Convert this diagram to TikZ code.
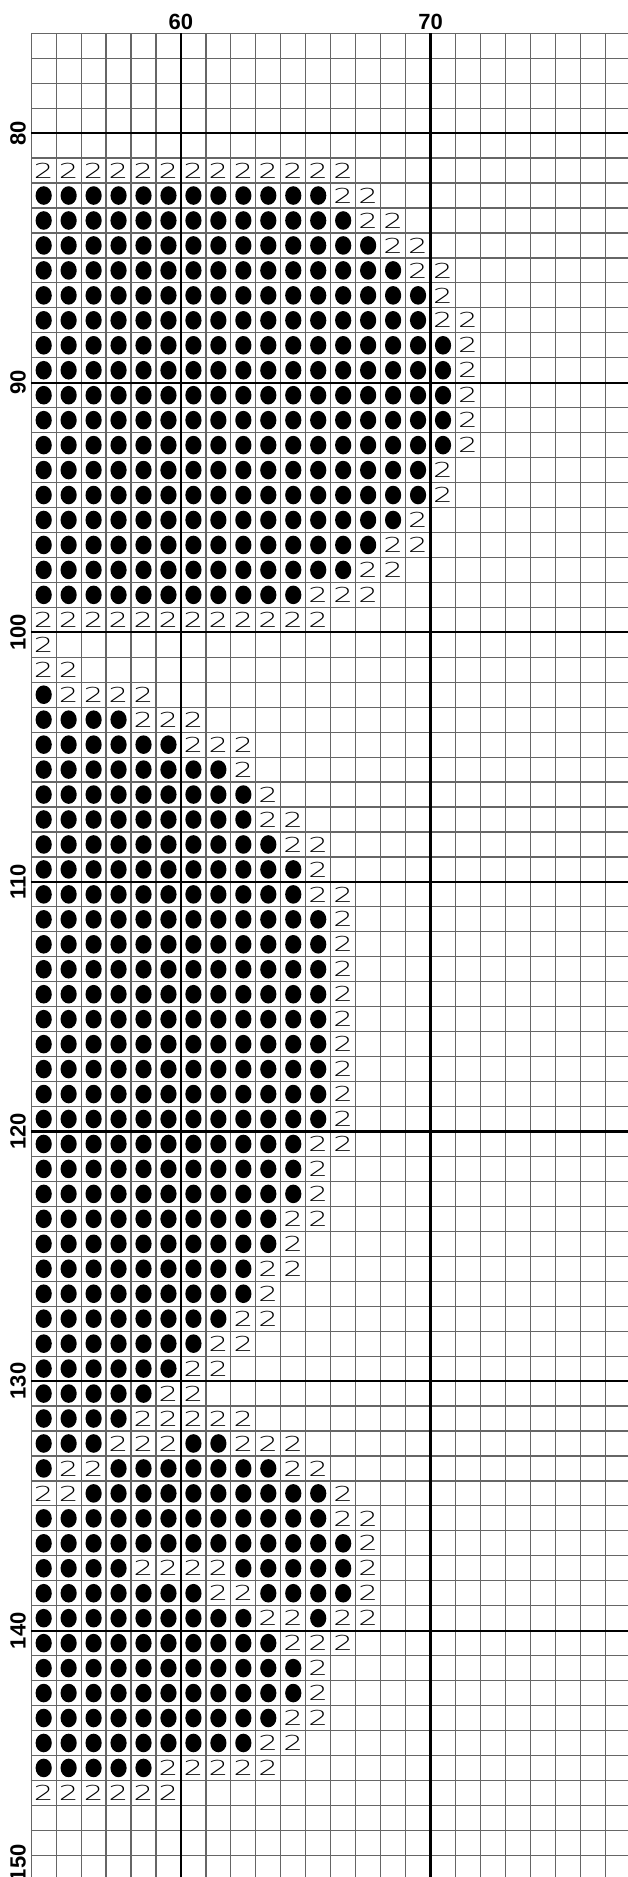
\documentclass[tikz,border=0pt]{standalone}
\usepackage{fontspec}
\usepackage{graphicx}
\setmainfont{Liberation Sans}
\newfontfamily\symfont{DejaVuSans-ExtraLight.ttf}

% one chart row: filled stitches (runs a/b) and the 2-symbol (columns)
\newcommand{\dotrow}[2]{%
  \foreach \a/\b in {#2}{\foreach \col in {\a,...,\b}{%
    \fill (\col+0.5,#1+0.5) ellipse [x radius=4.05pt, y radius=4.65pt];}}}
\newcommand{\tworow}[2]{%
  \foreach \col in {#2}{\node [sym] (s#1-\col) at (\col+0.5,#1+0.5) {\scalebox{1.5}[1]{2}};}}

\begin{document}
\begin{tikzpicture}[
    x=12.48pt, y=-12.48pt,
    minor/.style={draw=black!60, line width=0.6pt},
    major/.style={draw=black, line width=1.1pt},
    sym/.style={inner sep=0pt, font=\symfont\fontsize{10.3}{10.3}\selectfont},
    axislabel/.style={inner sep=0pt, font=\bfseries\fontsize{11}{11}\selectfont},
    rowlabel/.style={axislabel, rotate=90}
]

\fill [white] (-1.25,-1.334) rectangle (23.91,73.87);
\useasboundingbox (-1.25,-1.334) rectangle (23.91,73.87);
\clip (-1.25,-1.334) rectangle (23.91,73.87);

% grid
\foreach \col in {0,...,24} \draw [minor] (\col,0) -- (\col,74);
\foreach \rw in {0,...,74} \draw [minor] (0,\rw) -- (24,\rw);
\foreach \col in {6,16} \draw [major] (\col,0) -- (\col,74);
\foreach \rw in {4,14,...,74} \draw [major] (0,\rw) -- (24,\rw);

% numbers
\node [axislabel] (col60) at (6,-0.465) {60};
\node [axislabel] (col70) at (16,-0.465) {70};
\foreach \n [count=\i from 0] in {80,90,...,140}
  \node [rowlabel] (row\n) at (-0.53,4+10*\i) {\n};
\node [rowlabel] (row150) at (-0.53,73.3) {150};

% stitches
\tworow{5}{0,...,12}
\dotrow{6}{0/11} \tworow{6}{12,13}
\dotrow{7}{0/12} \tworow{7}{13,14}
\dotrow{8}{0/13} \tworow{8}{14,15}
\dotrow{9}{0/14} \tworow{9}{15,16}
\dotrow{10}{0/15} \tworow{10}{16}
\dotrow{11}{0/15} \tworow{11}{16,17}
\foreach \rw in {12,...,16} {\dotrow{\rw}{0/16} \tworow{\rw}{17}}
\dotrow{17}{0/15} \tworow{17}{16}
\dotrow{18}{0/15} \tworow{18}{16}
\dotrow{19}{0/14} \tworow{19}{15}
\dotrow{20}{0/13} \tworow{20}{14,15}
\dotrow{21}{0/12} \tworow{21}{13,14}
\dotrow{22}{0/10} \tworow{22}{11,12,13}
\tworow{23}{0,...,11}
\tworow{24}{0}
\tworow{25}{0,1}
\dotrow{26}{0/0} \tworow{26}{1,2,3,4}
\dotrow{27}{0/3} \tworow{27}{4,5,6}
\dotrow{28}{0/5} \tworow{28}{6,7,8}
\dotrow{29}{0/7} \tworow{29}{8}
\dotrow{30}{0/8} \tworow{30}{9}
\dotrow{31}{0/8} \tworow{31}{9,10}
\dotrow{32}{0/9} \tworow{32}{10,11}
\dotrow{33}{0/10} \tworow{33}{11}
\dotrow{34}{0/10} \tworow{34}{11,12}
\foreach \rw in {35,...,43} {\dotrow{\rw}{0/11} \tworow{\rw}{12}}
\dotrow{44}{0/10} \tworow{44}{11,12}
\dotrow{45}{0/10} \tworow{45}{11}
\dotrow{46}{0/10} \tworow{46}{11}
\dotrow{47}{0/9} \tworow{47}{10,11}
\dotrow{48}{0/9} \tworow{48}{10}
\dotrow{49}{0/8} \tworow{49}{9,10}
\dotrow{50}{0/8} \tworow{50}{9}
\dotrow{51}{0/7} \tworow{51}{8,9}
\dotrow{52}{0/6} \tworow{52}{7,8}
\dotrow{53}{0/5} \tworow{53}{6,7}
\dotrow{54}{0/4} \tworow{54}{5,6}
\dotrow{55}{0/3} \tworow{55}{4,...,8}
\dotrow{56}{0/2,6/7} \tworow{56}{3,4,5,8,9,10}
\dotrow{57}{0/0,3/9} \tworow{57}{1,2,10,11}
\dotrow{58}{2/11} \tworow{58}{0,1,12}
\dotrow{59}{0/11} \tworow{59}{12,13}
\dotrow{60}{0/12} \tworow{60}{13}
\dotrow{61}{0/3,8/12} \tworow{61}{4,5,6,7,13}
\dotrow{62}{0/6,9/12} \tworow{62}{7,8,13}
\dotrow{63}{0/8,11/11} \tworow{63}{9,10,12,13}
\dotrow{64}{0/9} \tworow{64}{10,11,12}
\dotrow{65}{0/10} \tworow{65}{11}
\dotrow{66}{0/10} \tworow{66}{11}
\dotrow{67}{0/9} \tworow{67}{10,11}
\dotrow{68}{0/8} \tworow{68}{9,10}
\dotrow{69}{0/4} \tworow{69}{5,...,9}
\tworow{70}{0,...,5}

\end{tikzpicture}
\end{document}
